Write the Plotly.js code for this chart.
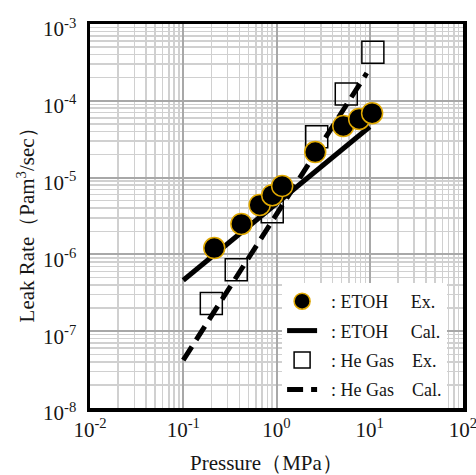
<!DOCTYPE html>
<html>
<head>
<meta charset="utf-8">
<script src="https://cdn.plot.ly/plotly-3.0.1.min.js"></script>
<style>html,body{margin:0;padding:0;background:#fff;}#chart{width:476px;height:475px;}</style>
</head>
<body>
<div id="chart"></div>
<script>
// ETOH experimental
var etohExPressure = [0.215, 0.42, 0.66, 0.9, 1.15, 2.6, 5.2, 7.7, 10.6];
var etohExLeak = [1.21e-6, 2.49e-6, 4.4e-6, 5.9e-6, 7.8e-6, 2.15e-5, 4.7e-5, 5.8e-5, 6.9e-5];
// ETOH calculated
var etohCalPressure = [0.1, 10];
var etohCalLeak = [4.6e-7, 4.6e-5];
// He gas experimental
var heExPressure = [0.2, 0.37, 0.9, 2.7, 5.6, 10.8];
var heExLeak = [2.3e-7, 6.3e-7, 3.6e-6, 3.4e-5, 1.23e-4, 4.3e-4];
// He gas calculated
var heCalPressure = [0.1, 9.3];
var heCalLeak = [4.2e-8, 2.3e-4];

var xTickVals = [0.01, 0.1, 1, 10, 100];
var xTickText = ['10<sup>-2</sup>', '10<sup>-1</sup>', '10<sup>0</sup>', '10<sup>1</sup>', '10<sup>2</sup>'];
var yTickVals = [1e-8, 1e-7, 1e-6, 1e-5, 1e-4, 1e-3];
var yTickText = ['10<sup>-8</sup>', '10<sup>-7</sup>', '10<sup>-6</sup>', '10<sup>-5</sup>', '10<sup>-4</sup>', '10<sup>-3</sup>'];
var xTitle = 'Pressure（MPa）';
var yTitle = 'Leak Rate（Pam<sup>3</sup>/sec）';

function minorVals(lo, hi) {
  var v = [];
  for (var e = lo; e < hi; e++) for (var m = 2; m <= 9; m++) v.push(m * Math.pow(10, e));
  return v;
}

var NB = '\u00a0';
var serif = 'Liberation Serif, Times New Roman, serif';
var ink = '#161616';

var traces = [
  {x: heExPressure, y: heExLeak, mode: 'markers', type: 'scatter',
   name: NB + NB + ': He Gas' + NB + NB + NB + NB + 'Ex.', legendrank: 3, legendgroup: 'c',
   marker: {symbol: 'square-open', size: 22, color: '#000', line: {width: 1.5, color: '#000'}}},
  {x: heCalPressure, y: heCalLeak, mode: 'lines', type: 'scatter',
   name: NB + NB + ': He Gas' + NB + NB + NB + NB + 'Cal.', legendrank: 4, legendgroup: 'd',
   line: {color: '#000', width: 5, dash: '16px,8px'}},
  {x: etohCalPressure, y: etohCalLeak, mode: 'lines', type: 'scatter',
   name: NB + NB + ': ETOH' + NB + NB + NB + NB + NB + 'Cal.', legendrank: 2, legendgroup: 'b',
   line: {color: '#000', width: 5}},
  {x: etohExPressure, y: etohExLeak, mode: 'markers', type: 'scatter',
   name: NB + NB + ': ETOH' + NB + NB + NB + NB + NB + 'Ex.', legendrank: 1, legendgroup: 'a',
   marker: {symbol: 'circle', size: 21, color: '#000', line: {width: 1.5, color: '#e0a800'}}}
];

var layout = {
  width: 476, height: 475,
  margin: {l: 90, r: 13, t: 24, b: 67, pad: 0},
  paper_bgcolor: '#fff', plot_bgcolor: '#fff',
  font: {family: serif, color: ink, size: 21},
  showlegend: true,
  legend: {x: 0.515, xanchor: 'left', y: 0, yanchor: 'bottom', bgcolor: '#fff', borderwidth: 0,
           font: {family: serif, size: 18, color: ink}, traceorder: 'grouped', tracegroupgap: 3,
           itemwidth: 30},
  xaxis: {
    type: 'log', range: [-2, 2], autorange: false,
    tickmode: 'array', tickvals: xTickVals, ticktext: xTickText,
    ticks: '', ticklabelstandoff: 0, ticklabeloverflow: 'allow',
    tickfont: {family: serif, size: 21, color: ink},
    showline: true, mirror: true, linecolor: '#000', linewidth: 3.5,
    showgrid: true, gridcolor: '#a8a8a8', gridwidth: 2, zeroline: false,
    minor: {tickvals: minorVals(-2, 2), showgrid: true, gridcolor: '#d0d0d0', gridwidth: 1.5, ticks: ''}
  },
  yaxis: {
    type: 'log', range: [-8, -3], autorange: false,
    tickmode: 'array', tickvals: yTickVals, ticktext: yTickText,
    ticks: '', ticklabelstandoff: 6, ticklabelshift: 5, ticklabeloverflow: 'allow',
    tickfont: {family: serif, size: 21, color: ink},
    showline: true, mirror: true, linecolor: '#000', linewidth: 3.5,
    showgrid: true, gridcolor: '#a8a8a8', gridwidth: 2, zeroline: false,
    minor: {tickvals: minorVals(-8, -3), showgrid: true, gridcolor: '#d0d0d0', gridwidth: 1.5, ticks: ''}
  },
  annotations: [
    {text: xTitle, xref: 'paper', yref: 'paper', x: 0.472, y: -0.143, xanchor: 'center', yanchor: 'middle',
     showarrow: false, font: {family: serif, size: 21, color: ink}},
    {text: yTitle, xref: 'paper', yref: 'paper', x: -0.1716, y: 0.491, xanchor: 'center', yanchor: 'middle',
     textangle: -90, showarrow: false, font: {family: serif, size: 21, color: ink}}
  ]
};

Plotly.newPlot('chart', traces, layout, {displayModeBar: false, staticPlot: true});
</script>
</body>
</html>
